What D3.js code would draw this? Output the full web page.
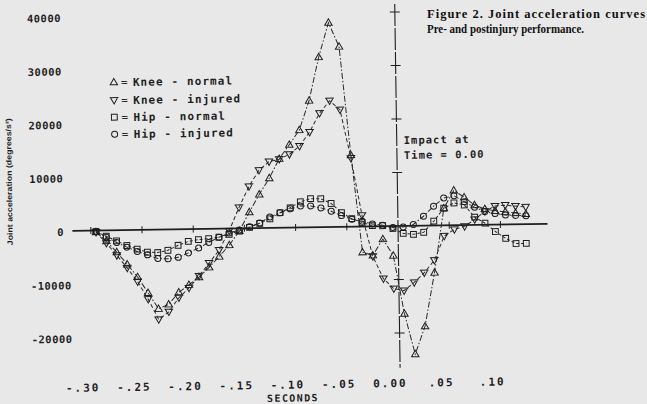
<!DOCTYPE html>
<html><head><meta charset="utf-8">
<script src="https://cdn.jsdelivr.net/npm/d3@7"></script>
<style>body{margin:0;background:#e8e8e8}svg{display:block}</style>
</head><body>
<svg id="c" width="647" height="404"></svg>
<script>
// ---- data ----
const times = [-0.295,-0.285,-0.275,-0.265,-0.255,-0.245,-0.235,-0.225,-0.215,-0.205,
  -0.195,-0.185,-0.175,-0.165,-0.155,-0.145,-0.135,-0.125,-0.115,-0.105,
  -0.095,-0.085,-0.075,-0.065,-0.055,-0.045,-0.035,-0.025,-0.015,-0.005,
  0.005,0.015,0.025,0.035,0.045,0.055,0.065,0.075,0.085,0.095,0.105,0.115,0.125];
const kneeNormal = [-300,-2000,-4100,-6400,-8800,-11800,-14800,-14000,-11800,-10400,
  -9000,-7200,-5200,-3100,-500,3000,6300,9300,12900,15500,
  18200,23700,31800,38200,33700,13400,-4800,-5400,-2400,-5500,
  -16400,-24000,-18800,-8800,3200,6500,5200,3700,2950,2550,2350,2100,1900];
const kneeInjured = [-300,-2400,-4700,-7100,-9700,-13000,-16800,-15400,-12800,-11000,
  -8800,-6400,-4000,-450,3900,7800,10800,12400,12800,13700,
  15200,17800,21300,23600,21900,12800,2100,-5600,-9800,-11700,
  -12100,-10600,-8800,-6500,-2000,-800,-250,1000,2500,3450,3600,3400,3200];
const hipNormal = [-200,-1100,-2000,-2900,-3600,-4200,-4300,-3900,-3000,-2300,
  -2000,-1850,-1600,-1100,-500,150,880,1700,2800,3700,
  4800,5350,5300,4400,2650,1500,750,150,100,-450,
  -1400,-1600,-1250,800,3200,4150,3750,1450,300,-1300,-2600,-3600,-3600];
const hipInjured = [-200,-1300,-2300,-3200,-4050,-4700,-5400,-5500,-5250,-4450,
  -3550,-2550,-1600,-850,-300,250,950,2050,2800,3500,
  4000,4000,3600,2950,2100,1400,1000,450,200,-250,
  -200,250,1750,3600,5100,5500,4350,3300,2450,2050,1750,1650,1550];
const xTicks = [-0.30,-0.25,-0.20,-0.15,-0.10,-0.05,0.00,0.05,0.10];
const xTickLabels = ["-.30","-.25","-.20","-.15","-.10","-.05","0.00",".05",".10"];
const yTicks = [40000,30000,20000,10000,0,-10000,-20000];
const yTickLabels = ["40000","30000","20000","10000","0","-10000","-20000"];
const legendLabels = ["Knee - normal","Knee - injured","Hip - normal","Hip - injured"];
const captionLines = ["Figure 2. Joint acceleration curves","Pre- and postinjury performance."];

// ---- drawing ----
const svg = d3.select("#c");
svg.append("rect").attr("width",647).attr("height",404).attr("fill","#e8e8e8");

const x = d3.scaleLinear().domain([-0.30,0.10]).range([90.8,500.4]);
const y = d3.scaleLinear().domain([-20000,40000]).range([333,12]);
const ink = "#1e1e1e";
const mono = "'DejaVu Sans Mono', monospace";

const g = svg.append("g").attr("transform","rotate(-0.85,398,226)");

// horizontal zero axis
g.append("line").attr("x1",x(-0.318)).attr("x2",x(0.146)).attr("y1",y(0)).attr("y2",y(0))
  .attr("stroke",ink).attr("stroke-width",1.8);
g.selectAll(".xt").data(xTicks.filter(t=>t!==0)).join("line")
  .attr("x1",d=>x(d)).attr("x2",d=>x(d)).attr("y1",y(0)-3.5).attr("y2",y(0)+3.5)
  .attr("stroke",ink).attr("stroke-width",1);

// vertical impact line at t = 0
g.append("line").attr("x1",x(0)).attr("x2",x(0)).attr("y1",y(41500)).attr("y2",y(-26500))
  .attr("stroke",ink).attr("stroke-width",1.1).attr("stroke-dasharray","22,2");
g.selectAll(".yt").data(yTicks.filter(v=>v!==0)).join("line")
  .attr("x1",x(0)-5).attr("x2",x(0)+5).attr("y1",d=>y(d)).attr("y2",d=>y(d))
  .attr("stroke",ink).attr("stroke-width",1);

// tick labels
g.selectAll(".xl").data(xTicks).join("text")
  .attr("x",d=>x(d)-10).attr("y",y(-30000)+0.5)
  .attr("text-anchor","middle").attr("font-family",mono).attr("font-weight","bold")
  .attr("font-size",11).attr("letter-spacing",2).attr("fill",ink)
  .text((d,i)=>xTickLabels[i]);
g.selectAll(".yl").data(yTicks).join("text")
  .attr("x",d=>d===0?64:30).attr("y",d=>y(d)+5)
  .attr("text-anchor",d=>d===0?"end":"start").attr("font-family",mono).attr("font-weight","bold")
  .attr("font-size",10.5).attr("letter-spacing",0.5).attr("fill",ink)
  .text((d,i)=>yTickLabels[i]);

g.append("text").attr("x",x(-0.105)).attr("y",y(-30000)+13.5)
  .attr("text-anchor","middle").attr("font-family",mono).attr("font-weight","bold")
  .attr("font-size",10).attr("letter-spacing",1.4).attr("fill",ink).text("SECONDS");

g.append("text").attr("transform","translate(12.5,176) rotate(-90)")
  .attr("text-anchor","middle").attr("font-family","'Liberation Sans', Arial, sans-serif")
  .attr("font-weight","bold").attr("font-size",7.6).attr("fill",ink)
  .attr("textLength",127).attr("lengthAdjust","spacingAndGlyphs")
  .text("Joint acceleration (degrees/s\u00B2)");

// impact annotation
g.append("text").attr("x",405).attr("y",144).attr("font-family",mono).attr("font-weight","bold")
  .attr("font-size",10.5).attr("letter-spacing",1.0).attr("fill",ink).text("Impact at");
g.append("text").attr("x",405).attr("y",159).attr("font-family",mono).attr("font-weight","bold")
  .attr("font-size",10.5).attr("letter-spacing",1.0).attr("fill",ink).text("Time = 0.00");

// series
const shapes = {
  up: "M0,-3.8L3.7,2.6L-3.7,2.6Z",
  down: "M-4.4,-2.6H4.4M-3.6,-2.6L0,3.8L3.6,-2.6",
  square: "M-2.9,-2.9h5.8v5.8h-5.8Z",
  circle: "M3,0A3,3 0 1 1 -3,0A3,3 0 1 1 3,0Z"
};
const series = [
  {name:legendLabels[0], values:kneeNormal, shape:"up", dash:"6,2,1.5,2"},
  {name:legendLabels[1], values:kneeInjured, shape:"down", dash:"4,2.5"},
  {name:legendLabels[2], values:hipNormal, shape:"square", dash:"3,2"},
  {name:legendLabels[3], values:hipInjured, shape:"circle", dash:"5,2,1.5,2"}
];
const line = d3.line().x((d,i)=>x(times[i])).y(d=>y(d));
series.forEach(s=>{
  g.append("path").attr("d",line(s.values)).attr("fill","none")
    .attr("stroke","#2a2a2a").attr("stroke-width",1).attr("stroke-dasharray",s.dash);
  g.selectAll(null).data(s.values).join("path")
    .attr("transform",(d,i)=>`translate(${x(times[i])},${y(d)})`)
    .attr("d",shapes[s.shape]).attr("fill","none").attr("stroke",ink).attr("stroke-width",1);
});

// legend
const legY = [78,96,113,130];
series.forEach((s,i)=>{
  g.append("path").attr("transform",`translate(116,${legY[i]})`).attr("d",shapes[s.shape])
    .attr("fill","none").attr("stroke",ink).attr("stroke-width",1);
  g.append("text").attr("x",123).attr("y",legY[i]+4).attr("font-family",mono)
    .attr("font-size",11).attr("fill",ink).text("=");
  g.append("text").attr("x",135).attr("y",legY[i]+4).attr("font-family",mono).attr("font-weight","bold")
    .attr("font-size",11).attr("letter-spacing",1.1).attr("fill",ink).text(s.name);
});

// caption (page text, not tilted)
svg.append("text").attr("x",427).attr("y",17.5).attr("font-family","'Liberation Serif', serif")
  .attr("font-weight","bold").attr("font-size",12.5).attr("fill","#111")
  .attr("textLength",218).attr("lengthAdjust","spacing").text(captionLines[0]);
svg.append("text").attr("x",427).attr("y",33).attr("font-family","'Liberation Serif', serif")
  .attr("font-weight","bold").attr("font-size",12.5).attr("fill","#111")
  .attr("textLength",157).attr("lengthAdjust","spacingAndGlyphs").text(captionLines[1]);
</script>
</body></html>
